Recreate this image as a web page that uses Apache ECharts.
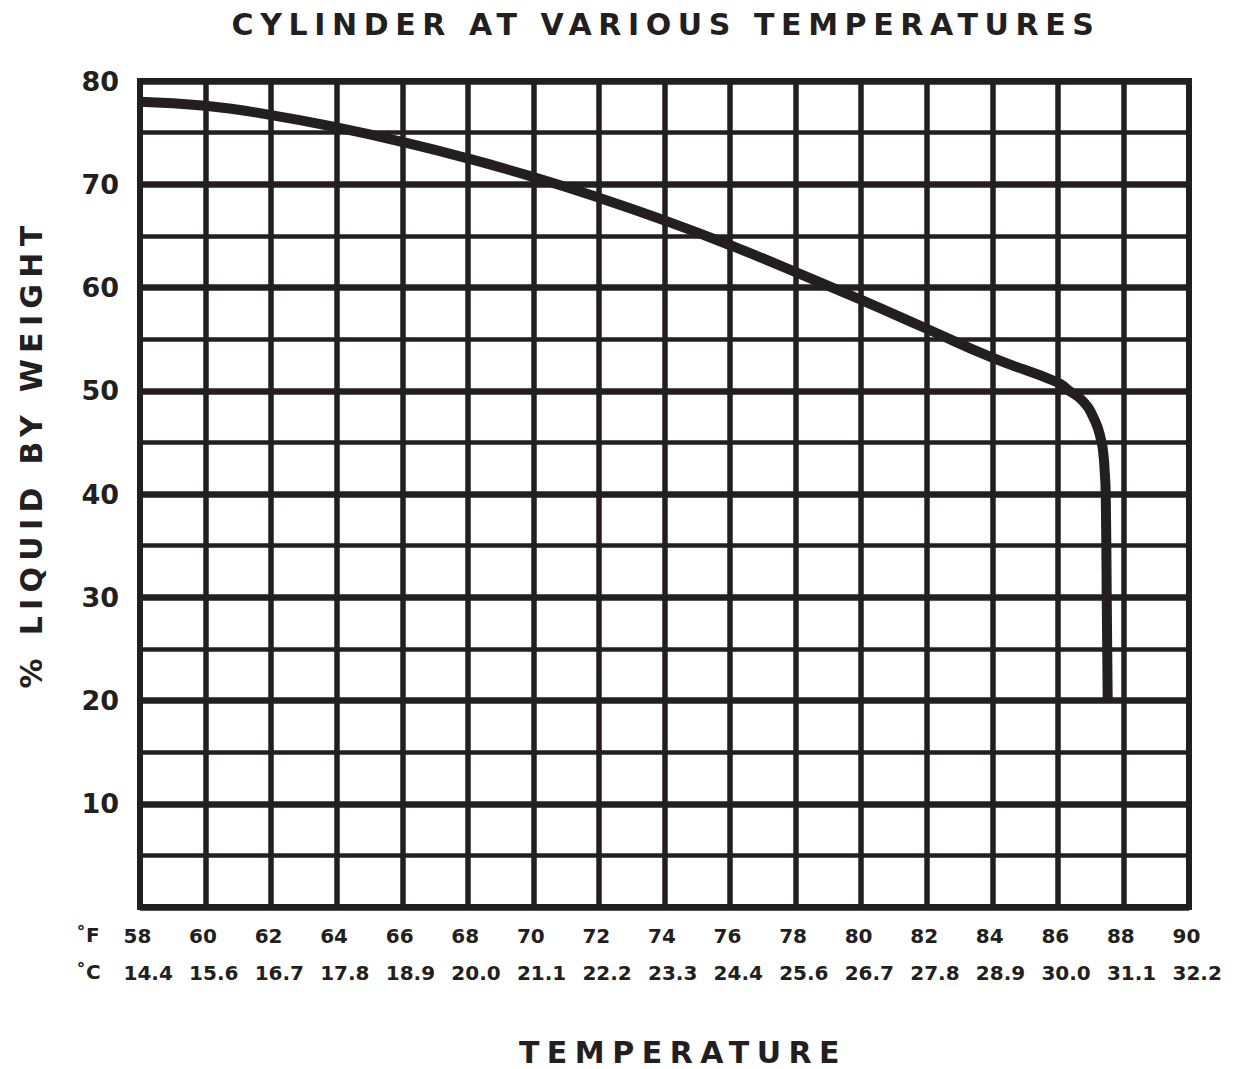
<!DOCTYPE html>
<html><head><meta charset="utf-8">
<script src="https://cdn.jsdelivr.net/npm/echarts@6/dist/echarts.min.js"></script>
<style>html,body{margin:0;padding:0;background:#fff}#main{width:1234px;height:1069px}</style>
</head><body><div id="main"></div>
<script>
// ---- data ----
const tempF     = [58, 60, 62, 64, 66, 68, 70, 72, 74, 76, 78, 80, 82, 84, 86, 86.3, 86.76, 87.13, 87.32, 87.39, 87.43, 87.46, 87.49, 87.52];
const liquidPct = [78.0, 77.6, 76.7, 75.5, 74.1, 72.5, 70.7, 68.7, 66.5, 64.1, 61.5, 58.8, 56.0, 53.2, 50.8, 50.1, 49.0, 47.1, 45.2, 43.8, 42.1, 40.0, 30.0, 20.0];
const fLabels = ['58','60','62','64','66','68','70','72','74','76','78','80','82','84','86','88','90'];
const cLabels = ['14.4','15.6','16.7','17.8','18.9','20.0','21.1','22.2','23.3','24.4','25.6','26.7','27.8','28.9','30.0','31.1','32.2'];
const yLabels = ['10','20','30','40','50','60','70','80'];
const titleText = 'CYLINDER AT VARIOUS TEMPERATURES';
const yName = '% LIQUID BY WEIGHT';
const xName = 'TEMPERATURE';

const INK = '#231f20';
const FONT = '"DejaVu Sans", "Liberation Sans", sans-serif';
const chart = echarts.init(document.getElementById('main'), null, {renderer: 'svg'});

const option = {
  animation: false,
  backgroundColor: '#fff',
  grid: {left: 140, right: 45, top: 81, bottom: 162, show: true, borderColor: INK, borderWidth: 6, backgroundColor: 'transparent'},
  xAxis: {
    type: 'value', min: 58, max: 90, interval: 2,
    axisLine: {show: false}, axisTick: {show: false},
    splitLine: {show: true, lineStyle: {color: INK, width: 5.5}},
    axisLabel: {
      margin: 10,
      formatter: function (v) {
        const i = Math.round((v - 58) / 2);
        return '{a|' + fLabels[i] + '}\n{b|' + cLabels[i] + '}';
      },
      rich: {
        a: {width: 33, align: 'left', fontSize: 20, fontWeight: 'bold', lineHeight: 37, color: INK, fontFamily: FONT},
        b: {width: 33, align: 'left', fontSize: 20, fontWeight: 'bold', lineHeight: 37, color: INK, fontFamily: FONT}
      }
    }
  },
  yAxis: [{
    type: 'value', min: 0, max: 80, interval: 5,
    axisLine: {show: false}, axisTick: {show: false}, axisLabel: {show: false},
    splitLine: {show: true, lineStyle: {color: INK, width: 4.5}}
  }, {
    type: 'value', min: 0, max: 80, interval: 10, position: 'left',
    axisLine: {show: false}, axisTick: {show: false},
    splitLine: {show: true, lineStyle: {color: INK, width: 6.5}},
    axisLabel: {
      margin: 21, fontSize: 27, color: INK, fontFamily: FONT, fontWeight: 'bold',
      formatter: function (v) { const i = v / 10 - 1; return i >= 0 ? yLabels[i] : ''; }
    }
  }],
  graphic: [
    {type: 'text', x: 666, y: 24, style: {text: titleText, font: 'bold 30px ' + FONT, fill: INK, textAlign: 'center', textVerticalAlign: 'middle'}},
    {type: 'text', x: 31, y: 454, rotation: Math.PI / 2, style: {text: yName, font: 'bold 30px ' + FONT, fill: INK, textAlign: 'center', textVerticalAlign: 'middle'}},
    {type: 'text', x: 683, y: 1052, style: {text: xName, font: 'bold 30px ' + FONT, fill: INK, textAlign: 'center', textVerticalAlign: 'middle'}},
    {type: 'text', x: 76, y: 935, style: {text: '˚F', font: 'bold 20px ' + FONT, fill: INK, textAlign: 'left', textVerticalAlign: 'middle'}},
    {type: 'text', x: 76, y: 972, style: {text: '˚C', font: 'bold 20px ' + FONT, fill: INK, textAlign: 'left', textVerticalAlign: 'middle'}}
  ],
  series: [{
    type: 'line', xAxisIndex: 0, yAxisIndex: 0,
    data: tempF.map((x, i) => [x, liquidPct[i]]),
    showSymbol: false, smooth: 0.5,
    lineStyle: {color: INK, width: 10, cap: 'butt'}
  }]
};
chart.setOption(option);

function track() {
  const map = {};
  map[titleText] = 6.6; map[yName] = 6.3; map[xName] = 7.5;
  document.querySelectorAll('#main text').forEach(function (t) {
    const s = t.textContent;
    if (map[s] !== undefined) t.setAttribute('letter-spacing', map[s]);
  });
}
try { chart.getZr().flush(); } catch (e) {}
track();
chart.on('finished', track);
setTimeout(track, 50);
</script></body></html>
